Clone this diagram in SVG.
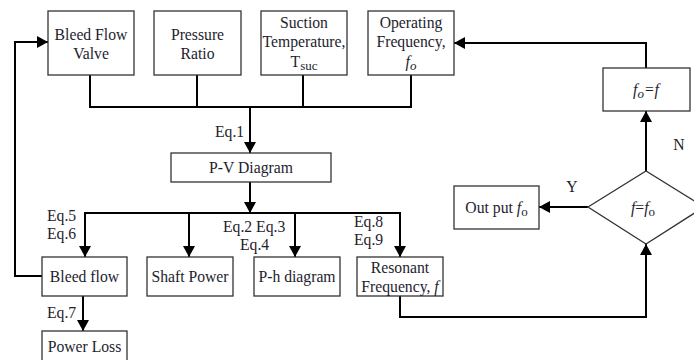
<svg xmlns="http://www.w3.org/2000/svg" width="694" height="360" viewBox="0 0 694 360">
<defs>
<marker id="arr" markerUnits="userSpaceOnUse" markerWidth="11" markerHeight="12" refX="11" refY="6" orient="auto">
<path d="M0,0 L11,6 L0,12 z" fill="#000"/>
</marker>
<style>
.box{fill:#fff;stroke:#333;stroke-width:1.3}
.t{font-family:"Liberation Serif","Times New Roman",serif;font-size:15.7px;fill:#1e1e2e;text-anchor:middle}
.l{font-family:"Liberation Serif","Times New Roman",serif;font-size:15.7px;fill:#1e1e2e}
.c{fill:none;stroke:#000;stroke-width:2}
.i{font-style:italic}
.s{font-size:13px}
</style>
</defs>
<rect width="694" height="360" fill="#fff"/>
<g id="connectors">
<path class="c" d="M90,75 V107 H411 V75 M197,75 V107 M303,75 V107"/>
<path class="c" d="M250,107 V153" marker-end="url(#arr)"/>
<path class="c" d="M250,182 V213" marker-end="url(#arr)"/>
<path class="c" d="M250,213 H85 V257" marker-end="url(#arr)"/>
<path class="c" d="M250,213 H400 V257" marker-end="url(#arr)"/>
<path class="c" d="M189,213 V257" marker-end="url(#arr)"/>
<path class="c" d="M295,213 V257" marker-end="url(#arr)"/>
<path class="c" d="M83,296 V331" marker-end="url(#arr)"/>
<path class="c" d="M42,276 H15 V42 H48" marker-end="url(#arr)"/>
<path class="c" d="M400,296 V317 H646 V244" marker-end="url(#arr)"/>
<path class="c" d="M588,207 H539" marker-end="url(#arr)"/>
<path class="c" d="M646,171 V111" marker-end="url(#arr)"/>
<path class="c" d="M646,68 V43 H454" marker-end="url(#arr)"/>
<text class="l" x="215" y="137">Eq.1</text>
<text class="l" x="223" y="232">Eq.2 Eq.3</text>
<text class="l" x="240" y="250">Eq.4</text>
<text class="l" x="47" y="221">Eq.5</text>
<text class="l" x="47" y="239">Eq.6</text>
<text class="l" x="47" y="318">Eq.7</text>
<text class="l" x="354" y="227">Eq.8</text>
<text class="l" x="354" y="245">Eq.9</text>
<text class="t" x="572" y="192">Y</text>
<text class="t" x="679" y="150">N</text>
</g>
<g id="bleed-flow-valve">
<rect class="box" x="48" y="11" width="86" height="64"/>
<text class="t" x="91" y="39.5">Bleed Flow</text>
<text class="t" x="91" y="58.5">Valve</text>
</g>
<g id="pressure-ratio">
<rect class="box" x="154" y="11" width="87" height="64"/>
<text class="t" x="197.5" y="39.5">Pressure</text>
<text class="t" x="197.5" y="58.5">Ratio</text>
</g>
<g id="suction-temperature">
<rect class="box" x="261" y="11" width="86" height="64"/>
<text class="t" x="304" y="27.5">Suction</text>
<text class="t" x="304" y="47">Temperature,</text>
<text class="t" x="304" y="67">T<tspan class="s" dy="3">suc</tspan></text>
</g>
<g id="operating-frequency">
<rect class="box" x="368" y="11" width="86" height="64"/>
<text class="t" x="411" y="27.5">Operating</text>
<text class="t" x="411" y="47">Frequency,</text>
<text class="t i" x="411" y="67">f<tspan class="s" dy="3">o</tspan></text>
</g>
<g id="fo-eq-f">
<rect class="box" x="603" y="68" width="87" height="43"/>
<text class="t i" x="646" y="95">f<tspan class="s" dy="3">o</tspan><tspan dy="-3">=f</tspan></text>
</g>
<g id="pv-diagram">
<rect class="box" x="171" y="153" width="160" height="29"/>
<text class="t" x="251" y="173">P-V Diagram</text>
</g>
<g id="bleed-flow">
<rect class="box" x="42" y="257" width="85" height="39"/>
<text class="t" x="84.5" y="282">Bleed flow</text>
</g>
<g id="shaft-power">
<rect class="box" x="147" y="257" width="86" height="39"/>
<text class="t" x="190" y="282">Shaft Power</text>
</g>
<g id="ph-diagram">
<rect class="box" x="254" y="257" width="86" height="39"/>
<text class="t" x="297" y="282">P-h diagram</text>
</g>
<g id="resonant-frequency">
<rect class="box" x="357" y="257" width="86" height="39"/>
<text class="t" x="400" y="273">Resonant</text>
<text class="t" x="400" y="292">Frequency, <tspan class="i">f</tspan></text>
</g>
<g id="power-loss">
<rect class="box" x="42" y="331" width="85" height="32"/>
<text class="t" x="84.5" y="352">Power Loss</text>
</g>
<g id="output">
<rect class="box" x="454" y="186" width="85" height="43"/>
<text class="t" x="496.5" y="213">Out put <tspan class="i">f</tspan><tspan class="s" dy="3">o</tspan></text>
</g>
<g id="decision">
<polygon class="box" points="588,207 646,171 704,207 646,244"/>
<text class="t" x="643" y="213"><tspan class="i">f</tspan>=<tspan class="i">f</tspan><tspan class="s" dy="3">o</tspan></text>
</g>
</svg>
